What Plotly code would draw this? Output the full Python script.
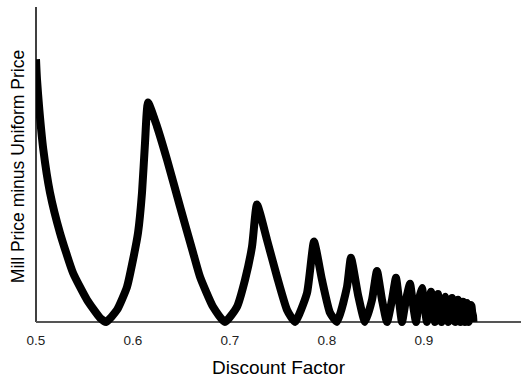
import plotly.graph_objects as go

discount_factor = [
    0.5000, 0.5010, 0.5034, 0.5075, 0.5144, 0.5247, 0.5381, 0.5526, 0.5660, 0.5722,
    0.5835, 0.5938, 0.6000, 0.6052, 0.6093, 0.6124, 0.6155,
    0.6247, 0.6350, 0.6485, 0.6619, 0.6691, 0.6825, 0.6948,
    0.7072, 0.7155, 0.7227, 0.7278,
    0.7381, 0.7485, 0.7588, 0.7670,
    0.7794, 0.7866, 0.7948, 0.8031, 0.8103,
    0.8206, 0.8247, 0.8320, 0.8392,
    0.8464, 0.8515, 0.8567, 0.8619,
    0.8670, 0.8711, 0.8742, 0.8773,
    0.8814, 0.8856, 0.8887, 0.8918,
    0.8948, 0.8979, 0.9005, 0.9030,
    0.9052, 0.9072, 0.9093, 0.9113,
    0.9130, 0.9144, 0.9160, 0.9180,
    0.9196, 0.9216, 0.9232, 0.9250,
    0.9268, 0.9289, 0.9305, 0.9320,
    0.9335, 0.9350, 0.9364, 0.9376,
    0.9390, 0.9402, 0.9412, 0.9422,
    0.9433, 0.9443, 0.9452, 0.9462,
    0.9472, 0.9482, 0.9490, 0.9497, 0.9505, 0.9510,
]
mill_minus_uniform = [
    0.834, 0.771, 0.675, 0.548, 0.411, 0.283, 0.156, 0.070, 0.013, 0.000,
    0.038, 0.111, 0.197, 0.283, 0.411, 0.570, 0.697,
    0.621, 0.516, 0.366, 0.220, 0.143, 0.048, 0.000,
    0.048, 0.134, 0.239, 0.373,
    0.261, 0.143, 0.038, 0.000,
    0.092, 0.255, 0.134, 0.029, 0.000,
    0.111, 0.204, 0.086, 0.000,
    0.070, 0.162, 0.070, 0.000,
    0.070, 0.140, 0.070, 0.000,
    0.070, 0.121, 0.054, 0.000,
    0.070, 0.108, 0.050, 0.000,
    0.060, 0.096, 0.045, 0.000,
    0.055, 0.089, 0.040, 0.000,
    0.050, 0.080, 0.035, 0.000,
    0.045, 0.076, 0.030, 0.000,
    0.040, 0.070, 0.030, 0.000,
    0.035, 0.064, 0.025, 0.000,
    0.035, 0.060, 0.025, 0.000,
    0.030, 0.054, 0.050, 0.030, 0.020, 0.000,
]

x_ticks = [0.5, 0.6, 0.7, 0.8, 0.9, 1.0]
x_tick_labels = ["0.5", "0.6", "0.7", "0.8", "0.9", "1"]

fig = go.Figure()
fig.add_trace(go.Scatter(
    x=discount_factor, y=mill_minus_uniform, mode="lines",
    line=dict(color="black", width=8, shape="spline", smoothing=0.5),
    showlegend=False, hoverinfo="skip",
))

# vertical axis line from the baseline to the top of the plot
fig.add_shape(type="line", xref="paper", yref="y", x0=0, x1=0, y0=0, y1=1.0,
              line=dict(color="black", width=1.5), layer="below")

font_family = "Liberation Sans, Arial, Helvetica, sans-serif"
fig.update_layout(
    width=521, height=378,
    margin=dict(l=36, r=0, t=7, b=52),
    paper_bgcolor="white", plot_bgcolor="white",
    font=dict(family=font_family, color="black"),
    xaxis=dict(
        range=[0.5, 1.0], tickvals=x_ticks, ticktext=x_tick_labels,
        showgrid=False, zeroline=False, showline=False,
        ticks="outside", ticklen=2, tickcolor="white",
        tickfont=dict(size=13.5, color="#222222"),
        title=dict(text="Discount Factor", font=dict(size=19), standoff=15),
    ),
    yaxis=dict(
        range=[-0.013, 1.0], showticklabels=False, showgrid=False,
        zeroline=True, zerolinecolor="#555555", zerolinewidth=1.5,
        showline=False, ticks="",
        title=dict(text="Mill Price minus Uniform Price", font=dict(size=17.5), standoff=5),
    ),
)

fig.write_html("out.html")
